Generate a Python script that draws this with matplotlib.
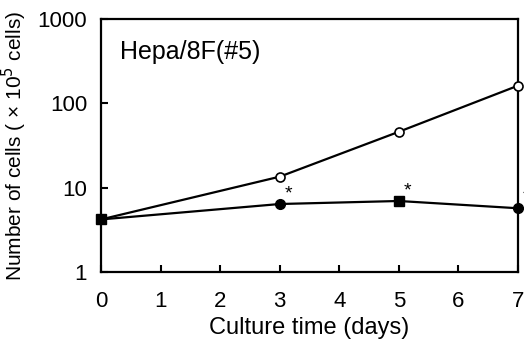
import matplotlib
matplotlib.use("Agg")
import matplotlib.pyplot as plt

plt.rcParams["font.family"] = ["Liberation Sans", "DejaVu Sans"]

days = [0, 3, 5, 7]
control = [4.2, 13.5, 46, 162]
treated = [4.2, 6.4, 6.95, 5.7]
treated_markers = ["s", "o", "s", "o"]
star_days = [3, 5, 7]

fig = plt.figure(figsize=(5.24, 3.45), dpi=100)
ax = fig.add_axes([0.1927, 0.2116, 0.7958, 0.7333])

ax.plot(days, control, color="black", lw=1.6, marker="o", ms=6.5,
        mfc="white", mec="black", mew=1.2, zorder=3, clip_on=False)
ax.plot(days, treated, color="black", lw=1.6, zorder=4)
for d, v, m in zip(days, treated, treated_markers):
    ax.plot(d, v, marker=m, color="black", ms=7, zorder=5, clip_on=False)

# significance stars (the one at day 7 sits on the right edge)
for d in star_days:
    v = treated[days.index(d)]
    ax.annotate("*", (d, v), xytext=(6, 1), textcoords="offset points",
                fontsize=14, ha="center", va="bottom", annotation_clip=False)

ax.set_yscale("log")
ax.set_xlim(0, 7)
ax.set_ylim(1, 1000)
ax.set_yticks([1, 10, 100, 1000])
ax.set_yticklabels(["1", "10", "100", "1000"])
ax.minorticks_off()
ax.set_xticks(range(8))
ax.tick_params(direction="in", length=5, width=1.5, labelsize=16, pad=10)
ax.tick_params(axis="x", pad=14)
for s in ax.spines.values():
    s.set_linewidth(1.6)

ax.set_xlabel("Culture time (days)", fontsize=17, labelpad=3)
ax.set_ylabel("Number of cells ( \u00d7 10$^5$ cells)", fontsize=15, labelpad=6)
ax.text(0.045, 0.87, "Hepa/8F(#5)", transform=ax.transAxes, fontsize=18,
        ha="left", va="center")

fig.savefig("out.png", dpi=100)
